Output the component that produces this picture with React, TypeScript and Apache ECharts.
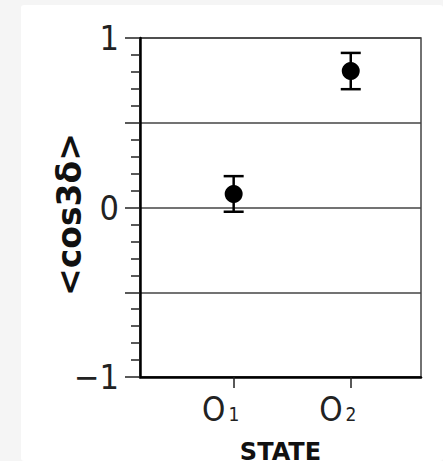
import React, { useEffect, useRef } from "react";
import * as echarts from "echarts";

const stateNames = ["O", "O"];
const stateSubs = ["1", "2"];
const statePos = [1, 2];
const meanValues = [0.08, 0.805];
const errValues = [0.105, 0.107];
const yTickLabels: Record<string, string> = { "1": "1", "0": "0", "-1": "\u22121" };

export default function App() {
  const ref = useRef<HTMLDivElement>(null);
  useEffect(() => {
    if (!ref.current) return;
    const chart = echarts.init(ref.current, null, { renderer: "svg" });
    const points = statePos.map((x, i) => [x, meanValues[i]]);
    const errData = statePos.map((x, i) => [x, meanValues[i], errValues[i]]);
    const font = "DejaVu Sans";
    const tickFont = "'DejaVu Sans Condensed', 'Liberation Sans Narrow', 'DejaVu Sans'";
    chart.setOption({
      animation: false,
      grid: {
        left: 140,
        right: 22,
        top: 38,
        bottom: 84,
        show: true,
        borderColor: "#444",
        borderWidth: 1.5,
        backgroundColor: "#fff",
        containLabel: false,
        outerBoundsMode: "none",
      },
      xAxis: {
        type: "value",
        min: 0.2,
        max: 2.6,
        axisLine: { show: true, onZero: false, lineStyle: { color: "#000", width: 2.5 } },
        axisTick: { show: true, customValues: statePos, length: 11, lineStyle: { color: "#222", width: 1.5 } },
        axisLabel: {
          show: true,
          customValues: statePos,
          margin: 11,
          padding: [0, 26, 0, 0],
          formatter: (v: number) => {
            const i = statePos.indexOf(v);
            if (i < 0) return "";
            return `{m|${stateNames[i]}}{s|${stateSubs[i]}}`;
          },
          rich: {
            m: { fontSize: 33, fontFamily: tickFont, color: "#222", lineHeight: 38, verticalAlign: "bottom" },
            s: { fontSize: 19, fontFamily: tickFont, color: "#222", lineHeight: 24, verticalAlign: "bottom", padding: [0, 0, 3, 3] },
          },
        },
        splitLine: { show: false },
        name: "STATE",
        nameLocation: "middle",
        nameGap: 64,
        nameMoveOverlap: false,
        nameTextStyle: { fontSize: 24, lineHeight: 22, fontWeight: "bold", fontFamily: font, color: "#111" },
      },
      yAxis: {
        type: "value",
        min: -1,
        max: 1,
        interval: 0.5,
        axisLine: { show: true, onZero: false, lineStyle: { color: "#000", width: 2.5 } },
        axisTick: { show: true, length: 15, lineStyle: { color: "#222", width: 1.5 } },
        minorTick: { show: true, splitNumber: 5, length: 9, lineStyle: { color: "#222", width: 1.5 } },
        axisLabel: {
          margin: 21,
          fontSize: 34,
          fontFamily: tickFont,
          color: "#222",
          formatter: (v: number) => yTickLabels[String(v)] ?? "",
        },
        splitLine: { show: true, lineStyle: { color: "#444", width: 1.5 } },
        name: "<cos3\u03b4>",
        nameLocation: "middle",
        nameRotate: 90,
        nameGap: 54,
        nameMoveOverlap: false,
        nameTextStyle: { fontSize: 33, fontWeight: "bold", fontFamily: font, color: "#111", padding: [0, 14, 0, 0] },
      },
      series: [
        {
          type: "custom",
          data: errData,
          renderItem: (params: any, api: any) => {
            const x = api.value(0);
            const y = api.value(1);
            const e = api.value(2);
            const top = api.coord([x, y + e]);
            const bot = api.coord([x, y - e]);
            const hw = 10;
            const style = { stroke: "#000", lineWidth: 2.5 };
            return {
              type: "group",
              children: [
                { type: "line", shape: { x1: top[0], y1: top[1], x2: bot[0], y2: bot[1] }, style },
                { type: "line", shape: { x1: top[0] - hw, y1: top[1], x2: top[0] + hw, y2: top[1] }, style },
                { type: "line", shape: { x1: bot[0] - hw, y1: bot[1], x2: bot[0] + hw, y2: bot[1] }, style },
              ],
            };
          },
          z: 3,
        },
        {
          type: "scatter",
          data: points,
          symbol: "circle",
          symbolSize: 18,
          itemStyle: { color: "#000", opacity: 1 },
          z: 4,
        },
      ],
    });
    return () => chart.dispose();
  }, []);

  return (
    <div style={{ position: "fixed", left: 0, top: 0, width: 443, height: 461, background: "#f5f5f5" }}>
      <div style={{ position: "absolute", left: 21, top: 5, width: 422, height: 456, background: "#fff", borderRadius: 3 }} />
      <div ref={ref} style={{ position: "absolute", left: 0, top: 0, width: 443, height: 461 }} />
    </div>
  );
}
